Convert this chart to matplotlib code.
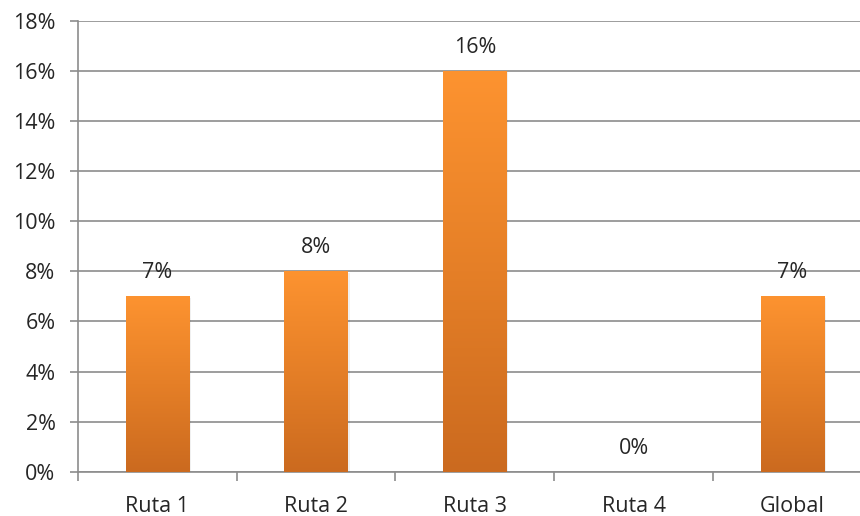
import numpy as np
import matplotlib
matplotlib.use("Agg")
import matplotlib.pyplot as plt
from matplotlib.colors import LinearSegmentedColormap
from matplotlib.ticker import MultipleLocator, FuncFormatter, FixedLocator

plt.rcParams['font.family'] = ['Open Sans', 'DejaVu Sans']

categories = ["Ruta 1", "Ruta 2", "Ruta 3", "Ruta 4", "Global"]
values = [7, 8, 16, 0, 7]          # percent
value_labels = ["7%", "8%", "16%", "0%", "7%"]

fig = plt.figure(figsize=(8.6, 5.16), dpi=100)
ax = fig.add_axes([0.0906, 0.0858, 0.923, 0.874])

x = np.arange(len(categories))
grid_col = "#8c8c8c"
text_col = "#262626"
fs = 15.5

ax.set_xlim(-0.5, len(categories) - 0.5)
ax.set_ylim(0, 18)

# orange vertical gradient for each bar
grad_cmap = LinearSegmentedColormap.from_list("orange_grad", ["#cb6a1f", "#e57f27", "#fd9330"])
gradient = np.linspace(0, 1, 256).reshape(-1, 1)

bars = ax.bar(x, values, width=0.4, color="none", edgecolor="none", zorder=3)
for rect in bars:
    h = rect.get_height()
    if h <= 0:
        continue
    x0 = rect.get_x()
    w = rect.get_width()
    # faint drop shadow
    ax.bar(x0 + w / 2 + 0.006, h, width=w + 0.012, bottom=-0.05,
           color="#000000", alpha=0.06, edgecolor="none", zorder=2.5)
    im = ax.imshow(gradient, cmap=grad_cmap, origin="lower", aspect="auto",
                   extent=[x0, x0 + w, 0, h], zorder=3, interpolation="bicubic")
    im.set_clip_path(rect)

for xi, v, lab in zip(x, values, value_labels):
    ax.annotate(lab, (xi, v), xytext=(0, 13), textcoords="offset points",
                ha="center", va="baseline", fontsize=fs, color=text_col, zorder=4)

# horizontal gridlines
ax.yaxis.set_major_locator(MultipleLocator(2))
ax.yaxis.set_major_formatter(FuncFormatter(lambda v, p: f"{v:.0f}%"))
ax.grid(axis="y", color=grid_col, linewidth=1.2, zorder=0)
ax.set_axisbelow(True)

# category ticks at the boundaries, labels at centres
ax.xaxis.set_major_locator(FixedLocator(np.arange(-0.5, len(categories), 1.0)))
ax.xaxis.set_major_formatter(FuncFormatter(lambda v, p: ""))
ax.xaxis.set_minor_locator(FixedLocator(x))
ax.set_xticklabels(categories, minor=True)
ax.tick_params(axis="x", which="major", direction="out", length=6.5, width=1.2,
               color=grid_col)
ax.tick_params(axis="x", which="minor", length=0, pad=17.5, labelsize=fs,
               labelcolor=text_col)
ax.tick_params(axis="y", direction="out", length=5.8, width=1.2, color=grid_col,
               pad=10.3, labelsize=fs, labelcolor=text_col)

for s in ["top", "right"]:
    ax.spines[s].set_visible(False)
ax.spines["left"].set_color(grid_col)
ax.spines["left"].set_linewidth(1.2)
ax.spines["bottom"].set_color(grid_col)
ax.spines["bottom"].set_linewidth(1.2)

fig.savefig("out.png", dpi=100)
